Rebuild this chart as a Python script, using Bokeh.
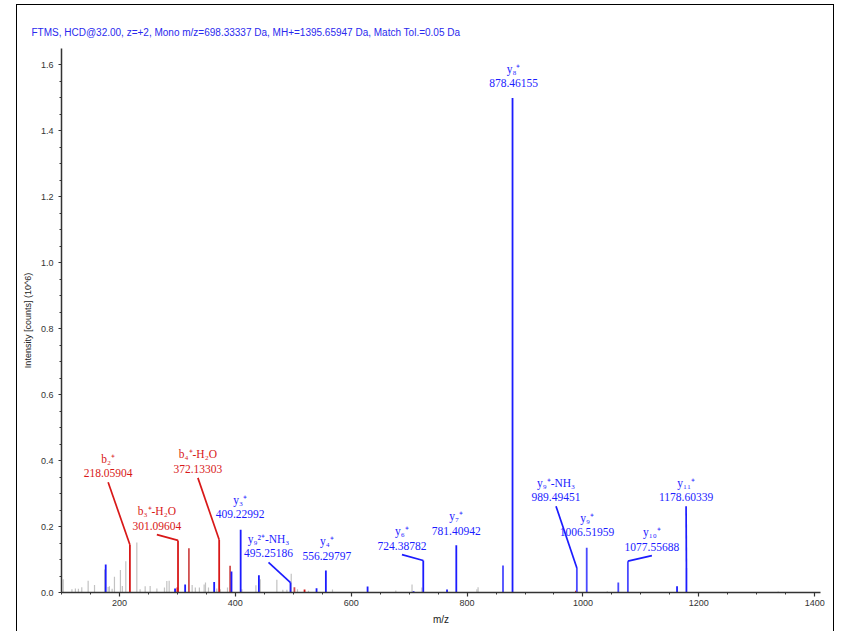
from bokeh.plotting import figure
from bokeh.models import (ColumnDataSource, SingleIntervalTicker, PrintfTickFormatter,
                          Range1d, InlineStyleSheet)
from bokeh.core.properties import value
from bokeh.embed import file_html
from bokeh.resources import INLINE

TITLE = ("FTMS, HCD@32.00, z=+2, Mono m/z=698.33337 Da, MH+=1395.65947 Da, "
         "Match Tol.=0.05 Da")
X_LABEL = "m/z"
Y_LABEL = "Intensity [counts] (10^6)"

# ---- unassigned peaks (grey) ----
other_mz = [103.0, 118.0, 124.0, 129.2, 135.0, 146.0, 157.0, 174.5, 180.5, 182.7, 187.4,
            191.4, 201.7, 205.0, 211.0, 230.0, 235.7, 244.4, 253.0, 264.6, 277.7, 281.8,
            285.8, 325.5, 331.0, 338.0, 346.2, 348.5, 353.7, 368.0, 374.0, 386.5, 411.3,
            435.5, 443.0, 471.7, 482.0, 489.0, 496.5, 507.3, 526.3, 567.7, 677.0, 705.0,
            722.0, 817.0, 819.0, 1042.0, 1337.0]
other_int = [0.040, 0.010, 0.012, 0.011, 0.016, 0.036, 0.023, 0.070, 0.017, 0.019, 0.011,
             0.048, 0.068, 0.020, 0.095, 0.152, 0.010, 0.019, 0.020, 0.012, 0.015, 0.035,
             0.036, 0.023, 0.015, 0.015, 0.024, 0.030, 0.015, 0.012, 0.010, 0.015, 0.010,
             0.022, 0.040, 0.039, 0.008, 0.008, 0.057, 0.010, 0.005, 0.009, 0.006, 0.024,
             0.015, 0.010, 0.016, 0.004, 0.003]

# ---- b-ion series peaks (red) ----
b_mz = [218.05904, 301.09604, 372.13303, 300.0, 519.5, 988.0]
b_int = [0.145, 0.158, 0.160, 0.015, 0.009, 0.005]
b_minor_mz = [319.9, 391.0, 502.0]
b_minor_int = [0.134, 0.081, 0.016]

# ---- y-ion series peaks (blue) ----
y_mz = [176.3, 296.0, 313.4, 363.5, 393.4, 409.22992, 440.7, 495.25186, 540.2,
        556.29797, 628.3, 707.7, 724.38782, 765.4, 781.40942, 878.46155,
        1162.4, 1178.60339]
y_int = [0.085, 0.012, 0.024, 0.032, 0.064, 0.190, 0.052, 0.030, 0.013,
         0.067, 0.018, 0.004, 0.097, 0.009, 0.143, 1.500,
         0.019, 0.074]
y_minor_mz = [862.0, 989.49451, 1006.51959, 1061.0, 1077.55688]
y_minor_int = [0.082, 0.074, 0.136, 0.030, 0.095]

# ---- annotations ----
ann_name = ["b\u2082\u207a", "b\u2083\u207a-H\u2082O", "b\u2084\u207a-H\u2082O",
            "y\u2083\u207a", "y\u2089\u00b2\u207a-NH\u2083", "y\u2084\u207a",
            "y\u2086\u207a", "y\u2087\u207a", "y\u2088\u207a", "y\u2089\u207a-NH\u2083",
            "y\u2089\u207a", "y\u2081\u2080\u207a", "y\u2081\u2081\u207a"]
ann_mz = [218.05904, 301.09604, 372.13303, 409.22992, 495.25186, 556.29797,
          724.38782, 781.40942, 878.46155, 989.49451, 1006.51959, 1077.55688,
          1178.60339]
ann_int = [0.145, 0.158, 0.160, 0.190, 0.030, 0.067, 0.097, 0.143, 1.500,
           0.074, 0.136, 0.095, 0.074]
ann_series = ["b", "b", "b", "y", "y", "y", "y", "y", "y", "y", "y", "y", "y"]
label_mz = [180.5, 264.6, 335.4, 408.4, 457.3, 558.0, 687.6, 781.3, 880.3,
            953.5, 1007.0, 1119.0, 1178.0]
label_int = [0.3615, 0.203, 0.375, 0.238, 0.119, 0.112, 0.142, 0.188, 1.545,
             0.289, 0.183, 0.139, 0.289]
has_leader = [True, True, True, False, True, False, True, False, False,
              True, False, True, True]

RED = "#d81818"
BLUE = "#1c1cff"
BLUE_LIGHT = "#4a4aff"
GREY = "#c2c2c2"
FONT = "Liberation Sans"
SERIF = "Liberation Serif"

p = figure(width=842, height=631, x_range=Range1d(100, 1410), y_range=Range1d(0, 1.65),
           output_backend="svg", toolbar_location=None,
           min_border_left=61, min_border_right=22, min_border_top=48,
           min_border_bottom=39)
p.outline_line_color = None
p.grid.visible = False
p.background_fill_color = "white"
p.border_fill_color = "white"

# outer page frame (left, top and right edges)
p.stylesheets = [InlineStyleSheet(css="""
:host { position: relative; }
:host::after {
  content: ''; position: absolute; box-sizing: border-box;
  left: 16px; top: 4px; width: 818px; bottom: 0px;
  border: 1.3px solid #000; border-bottom: none; pointer-events: none;
}
""")]

p.title.text = TITLE
p.title.text_font = FONT
p.title.text_font_size = "10px"
p.title.text_font_style = "normal"
p.title.text_color = "#2a2aee"
p.title.align = "left"
p.title.offset = -30
p.title.standoff = 21

for ax in (p.xaxis[0], p.yaxis[0]):
    ax.axis_line_color = "#333333"
    ax.axis_line_width = 1.5
    ax.major_tick_line_color = "#333333"
    ax.minor_tick_line_color = "#333333"
    ax.major_tick_line_width = 1.2
    ax.minor_tick_line_width = 1
    ax.major_tick_in = 0
    ax.minor_tick_in = 0
    ax.minor_tick_out = 2
    ax.major_label_text_font = FONT
    ax.major_label_text_font_size = "9px"
    ax.major_label_text_color = "#333333"
    ax.axis_label_text_font = FONT
    ax.axis_label_text_font_style = "normal"
    ax.axis_label_text_color = "#222222"

p.xaxis.ticker = SingleIntervalTicker(interval=200, num_minor_ticks=4)
p.xaxis.major_tick_out = 4
p.xaxis.major_label_standoff = 3
p.xaxis.axis_label = X_LABEL
p.xaxis.axis_label_text_font_size = "10px"
p.xaxis.axis_label_standoff = 5

p.yaxis.ticker = SingleIntervalTicker(interval=0.2, num_minor_ticks=4)
p.yaxis.formatter = PrintfTickFormatter(format="%.1f")
p.yaxis.major_tick_out = 3
p.yaxis.major_label_standoff = 5
p.yaxis.axis_label = Y_LABEL
p.yaxis.axis_label_text_font_size = "9px"
p.yaxis.axis_label_standoff = 5

# peaks
src_o = ColumnDataSource(dict(x=other_mz, y=other_int, z=[0] * len(other_mz)))
p.segment(x0="x", y0="z", x1="x", y1="y", source=src_o, line_color=GREY, line_width=1.2)

src_bm = ColumnDataSource(dict(x=b_minor_mz, y=b_minor_int, z=[0] * len(b_minor_mz)))
p.segment(x0="x", y0="z", x1="x", y1="y", source=src_bm, line_color="#d05050",
          line_width=1.8)

src_b = ColumnDataSource(dict(x=b_mz, y=b_int, z=[0] * len(b_mz)))
p.segment(x0="x", y0="z", x1="x", y1="y", source=src_b, line_color=RED, line_width=1.8)

src_ym = ColumnDataSource(dict(x=y_minor_mz, y=y_minor_int, z=[0] * len(y_minor_mz)))
p.segment(x0="x", y0="z", x1="x", y1="y", source=src_ym, line_color=BLUE_LIGHT,
          line_width=1.8)

src_y = ColumnDataSource(dict(x=y_mz, y=y_int, z=[0] * len(y_mz)))
p.segment(x0="x", y0="z", x1="x", y1="y", source=src_y, line_color=BLUE, line_width=1.8)

# labels and leader lines
colors = [RED if s == "b" else BLUE for s in ann_series]
nums = ["%.5f" % m for m in ann_mz]
src_l = ColumnDataSource(dict(x=label_mz, y=label_int, name=ann_name, num=nums, c=colors))
p.text(x="x", y="y", text="num", source=src_l, text_color="c", text_align="center",
       text_baseline="middle", text_font=value(SERIF), text_font_size="11.5px")
p.text(x="x", y="y", text="name", source=src_l, text_color="c", text_align="center",
       text_baseline="middle", text_font=value(SERIF), text_font_size="11.5px",
       y_offset=-14.5)

lead_idx = [i for i, h in enumerate(has_leader) if h]
ystep = 9.0 / 330.0
src_lead = ColumnDataSource(dict(
    x0=[label_mz[i] for i in lead_idx],
    y0=[label_int[i] - ystep for i in lead_idx],
    x1=[ann_mz[i] for i in lead_idx],
    y1=[ann_int[i] for i in lead_idx],
    c=[colors[i] for i in lead_idx]))
p.segment(x0="x0", y0="y0", x1="x1", y1="y1", source=src_lead, line_color="c",
          line_width=1.7)

open("out.html", "w").write(file_html(p, INLINE))
